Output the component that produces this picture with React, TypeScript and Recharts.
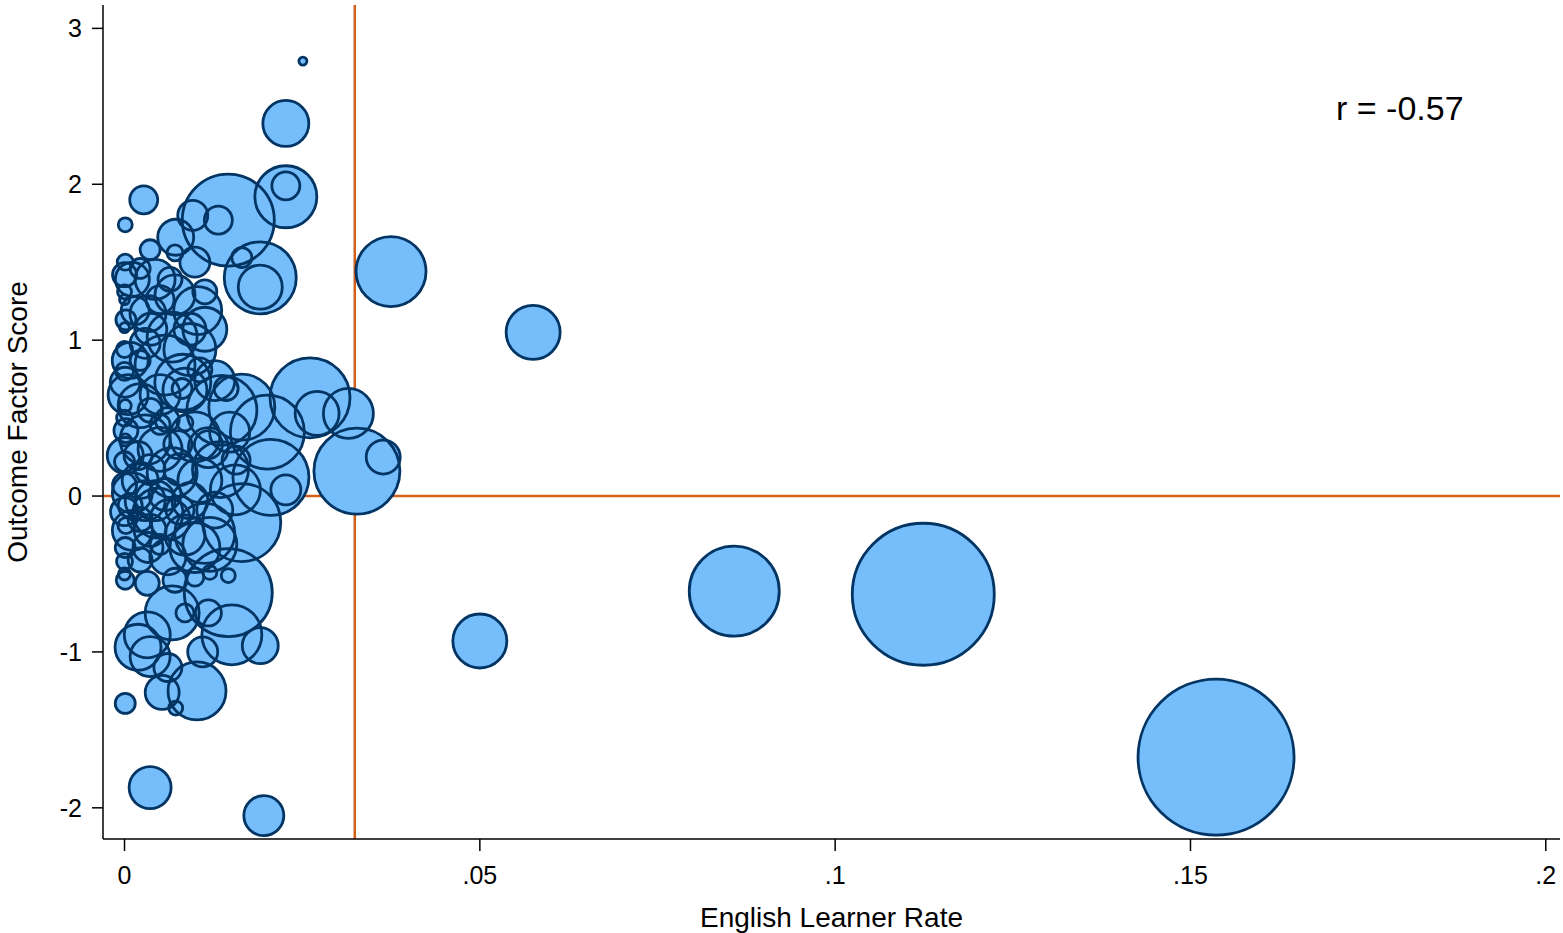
import { ReferenceLine, Scatter, ScatterChart, XAxis, YAxis, ZAxis } from "recharts";

// English learner rate per district (x)
const elRate = [
  0.0251, 0.0227, 0.0227, 0.0227, 0.0375, 0.0575, 0.05, 0.0858, 0.1124, 0.1536,
  0.0196, 0.0036, 0.0001, 0.0027, 0.0001, 0.0146, 0.0132, 0.0096, 0.0072, 0.0191,
  0.0191, 0.0165, 0.0099, 0.0103, 0.0043, 0.0011, 0.0001, 0.0071, 0.0033, 0.0067,
  0.0092, 0.0082, 0.0057, 0.0029, 0.0, 0.0001, 0.0001, 0.0085, 0.0081, 0.006,
  0.0085, 0.0029, 0.0137, 0.0165, 0.0118, 0.0099, 0.0261, 0.0271, 0.0315, 0.0327,
  0.0364, 0.0201, 0.0206, 0.0227, 0.0148, 0.0011, 0.0043, 0.0067, 0.0156, 0.0165,
  0.0146, 0.0067, 0.0032, 0.0001, 0.0099, 0.0061, 0.0033, 0.0001, 0.0011, 0.0047,
  0.0029, 0.0113, 0.0146, 0.0085, 0.0118, 0.0032, 0.0019, 0.0036, 0.0061, 0.0053,
  0.0102, 0.0072, 0.011, 0.0191, 0.0151, 0.012, 0.0, 0.0, 0.0002, 0.0,
  0.0, 0.0005, 0.0, 0.0002, 0.0, 0.0, 0.0, 0.0002, 0.0, 0.0,
  0.0022, 0.005, 0.0071, 0.0113, 0.0022, 0.0036, 0.0075, 0.0036, 0.0092, 0.0064,
  0.0127, 0.0022, 0.0099, 0.012, 0.0157, 0.0143, 0.0106, 0.0001, 0.0019, 0.005,
  0.0, 0.0015, 0.0037, 0.0008, 0.005, 0.0022, 0.0001, 0.005, 0.0078, 0.0022,
  0.0106, 0.0057, 0.0078, 0.0008, 0.0036, 0.0085, 0.0022, 0.0071, 0.0135, 0.0127,
  0.0064, 0.0092, 0.0113, 0.0036, 0.0118, 0.005,
];

// outcome factor score (y)
const outcome = [
  2.79, 2.39, 1.92, 1.99, 1.44, 1.05, -0.93, -0.61, -0.63, -1.675,
  -2.05, -1.87, -1.33, 1.9, 1.74, 1.77, 1.77, 1.8, 1.66, 1.4,
  1.34, 1.53, 1.5, 1.19, 1.39, 1.39, 1.5, 1.56, 1.17, 1.02,
  0.94, 0.73, 0.84, 0.98, 0.94, 0.73, 0.58, 0.68, 0.69, 0.49,
  0.47, 0.36, 0.55, 0.57, 0.31, 0.38, 0.63, 0.53, 0.53, 0.16,
  0.25, 0.41, 0.12, 0.04, 0.41, 0.02, -0.03, 0.15, 0.04, -0.17,
  -0.62, -0.75, -0.56, -0.54, -0.33, -0.39, -0.33, -0.33, -0.22, -0.11,
  -0.03, -0.24, -0.51, -0.75, -0.75, -0.89, -0.97, -1.03, -1.1, -1.26,
  -1.25, -1.36, -1.0, -0.96, -0.89, -0.31, 1.31, 1.26, 1.13, 1.08,
  0.8, 0.65, 0.5, 0.42, 0.22, 0.07, -0.1, -0.19, -0.42, -0.5,
  1.46, 1.26, 1.29, 1.31, 0.87, 0.55, 0.33, 0.17, -0.03, -0.15,
  -0.09, -0.15, -0.52, -0.49, 0.23, 0.69, 0.81, 0.36, 0.26, -0.31,
  1.42, 1.19, 1.07, 0.87, 0.65, 0.58, 0.26, 0.3, 0.17, 0.1,
  0.1, 0.01, -0.09, -0.06, -0.22, -0.25, -0.41, -0.54, 0.17, 0.74,
  1.39, 1.07, 1.07, 1.58, 0.33, 0.46,
];

// bubble weight (area is proportional to it)
const weights = [
  16, 529, 961, 196, 1225, 729, 729, 2025, 5041, 6084,
  400, 441, 100, 196, 49, 2116, 196, 225, 324, 1296,
  484, 100, 225, 576, 400, 289, 64, 64, 324, 625,
  676, 784, 900, 225, 64, 225, 36, 484, 100, 144,
  64, 625, 1225, 1089, 400, 625, 1600, 484, 625, 1849,
  289, 1369, 1444, 225, 400, 400, 400, 625, 625, 1521,
  1936, 729, 144, 81, 625, 324, 225, 100, 400, 625,
  400, 900, 49, 81, 169, 529, 529, 400, 196, 289,
  841, 49, 225, 324, 900, 729, 49, 25, 100, 25,
  81, 400, 64, 144, 100, 144, 196, 64, 64, 36,
  100, 196, 400, 144, 100, 144, 196, 225, 324, 400,
  324, 144, 81, 49, 196, 144, 144, 36, 196, 100,
  144, 196, 256, 324, 400, 484, 324, 484, 256, 324,
  484, 256, 196, 144, 256, 400, 144, 144, 784, 400,
  144, 256, 484, 100, 196, 100,
];

const xTicks = [0, 0.05, 0.1, 0.15, 0.2];
const yTicks = [-2, -1, 0, 1, 2, 3];
const elCutoff = 0.0324;
const corrLabel = "r = -0.57";

const FONT = "'Liberation Sans', Arial, sans-serif";
const ORANGE = "#D2601A";
const MAX_W = 6100;

const points = elRate.map((x, i) => ({ x, y: outcome[i], z: weights[i] }));

const fmtX = (v: number) => (v === 0 ? "0" : String(v).replace(/^0/, ""));

export default function App() {
  return (
    <div style={{ position: "absolute", left: 0, top: 0, width: 1563, height: 933, background: "#fff" }}>
      <ScatterChart width={1563} height={933} margin={{ top: 5, right: 3, bottom: 0, left: 0 }}>
        <XAxis
          type="number"
          dataKey="x"
          domain={[-0.00303, 0.202]}
          allowDataOverflow
          ticks={xTicks}
          interval={0}
          tickFormatter={fmtX}
          height={94}
          tickSize={12}
          tickMargin={15}
          axisLine={{ stroke: "#000", strokeWidth: 1.5 }}
          tickLine={{ stroke: "#000", strokeWidth: 1.5 }}
          tick={{ fill: "#000", fontSize: 25, fontFamily: FONT }}
          label={{
            value: "English Learner Rate",
            position: "insideBottom",
            offset: 6,
            fill: "#000",
            fontSize: 28,
            fontFamily: FONT,
          }}
        />
        <YAxis
          type="number"
          dataKey="y"
          domain={[-2.2, 3.15]}
          allowDataOverflow
          ticks={yTicks}
          interval={0}
          width={103}
          tickSize={11}
          tickMargin={10}
          axisLine={{ stroke: "#000", strokeWidth: 1.5 }}
          tickLine={{ stroke: "#000", strokeWidth: 1.5 }}
          tick={{ fill: "#000", fontSize: 25, fontFamily: FONT }}
          label={{
            value: "Outcome Factor Score",
            angle: -90,
            position: "insideLeft",
            offset: 17,
            fill: "#000",
            fontSize: 28,
            fontFamily: FONT,
            style: { textAnchor: "middle" },
          }}
        />
        <ZAxis type="number" dataKey="z" domain={[0, MAX_W]} range={[0, MAX_W * Math.PI]} />
        <ReferenceLine x={elCutoff} stroke={ORANGE} strokeWidth={2.5} />
        <ReferenceLine y={0} stroke={ORANGE} strokeWidth={2.5} />
        {/* fills first, then every ring on top, so overlapping outlines all show */}
        <Scatter data={points} fill="#76BDFB" stroke="none" isAnimationActive={false} />
        <Scatter
          data={points}
          fill="none"
          stroke="#023563"
          strokeWidth={2.8}
          isAnimationActive={false}
        />
      </ScatterChart>
      <div
        style={{
          position: "absolute",
          left: 1336,
          top: 91,
          fontFamily: FONT,
          fontSize: 34,
          lineHeight: "34px",
          color: "#000",
          whiteSpace: "nowrap",
        }}
      >
        {corrLabel}
      </div>
    </div>
  );
}
